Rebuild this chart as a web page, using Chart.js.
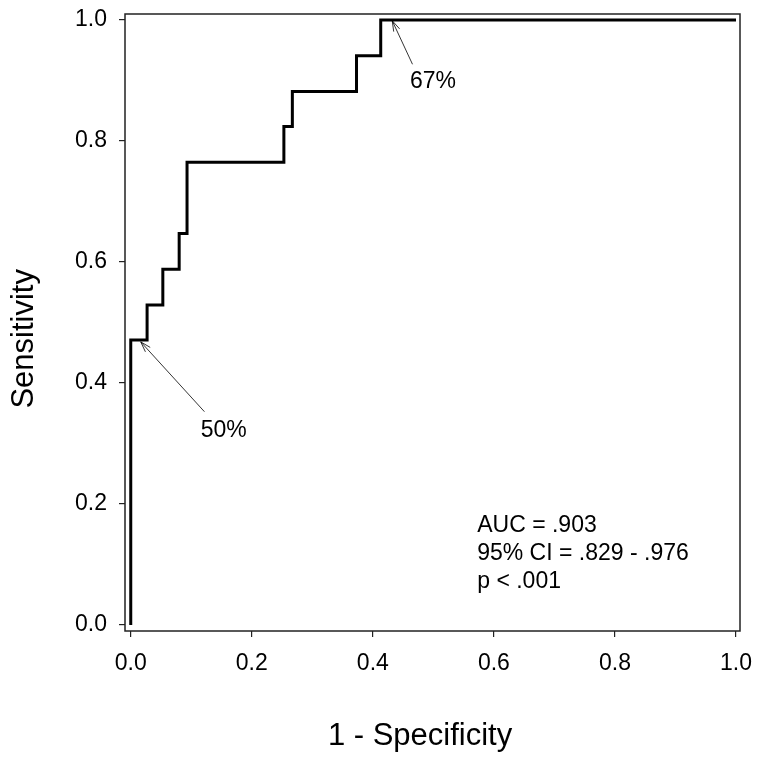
<!DOCTYPE html>
<html lang="en">
<head>
    <meta charset="UTF-8">
    <title>ROC Curve</title>
    <script src="https://cdn.jsdelivr.net/npm/chart.js"></script>
    <style>
        body { margin: 0; background: #fff; }
    </style>
</head>
<body>
    <canvas id="rocChart" width="762" height="763"></canvas>
    <script>
        // ROC points (1 - specificity, sensitivity)
        const fpr  = [0, 0, 0.027, 0.053, 0.080, 0.093, 0.253, 0.267, 0.373, 0.413, 1.0];
        const sens = [0, 0.471, 0.529, 0.588, 0.647, 0.765, 0.824, 0.882, 0.941, 1.0, 1.0];
        const tickValues = [0, 0.2, 0.4, 0.6, 0.8, 1.0];
        const statsLines = ['AUC = .903', '95% CI = .829 - .976', 'p < .001'];
        // cut-off labels: [label, arrow tip x, tip y, tail x, tail y, text x, text y]
        const cutoffs = [
            ['50%', 0.0165, 0.468, 0.1217, 0.3526, 0.1155, 0.310],
            ['67%', 0.432, 0.9988, 0.4655, 0.9268, 0.4613, 0.887]
        ];

        const FONT = '"Liberation Sans", Arial, sans-serif';

        // horizontal-then-vertical steps between the ROC points
        const curve = [{ x: fpr[0], y: sens[0] }];
        for (let i = 1; i < fpr.length; i++) {
            curve.push({ x: fpr[i], y: sens[i - 1] });
            curve.push({ x: fpr[i], y: sens[i] });
        }

        const framePlugin = {
            id: 'frame',
            afterDraw(chart) {
                const ctx = chart.ctx;
                const a = chart.chartArea;
                const xs = chart.scales.x, ys = chart.scales.y;
                ctx.save();
                ctx.strokeStyle = '#222';
                ctx.lineWidth = 1.5;
                ctx.strokeRect(a.left, a.top, a.right - a.left, a.bottom - a.top);

                ctx.fillStyle = '#000';
                ctx.font = '23px ' + FONT;
                ctx.textAlign = 'left';
                ctx.textBaseline = 'alphabetic';

                cutoffs.forEach(c => {
                    const tx = xs.getPixelForValue(c[1]), ty = ys.getPixelForValue(c[2]);
                    const sx = xs.getPixelForValue(c[3]), sy = ys.getPixelForValue(c[4]);
                    ctx.strokeStyle = '#000';
                    ctx.lineWidth = 0.8;
                    ctx.beginPath();
                    ctx.moveTo(sx, sy);
                    ctx.lineTo(tx, ty);
                    const ang = Math.atan2(sy - ty, sx - tx);
                    const len = 11, spread = 0.3;
                    ctx.moveTo(tx + len * Math.cos(ang + spread), ty + len * Math.sin(ang + spread));
                    ctx.lineTo(tx, ty);
                    ctx.lineTo(tx + len * Math.cos(ang - spread), ty + len * Math.sin(ang - spread));
                    ctx.stroke();
                    ctx.fillText(c[0], xs.getPixelForValue(c[5]), ys.getPixelForValue(c[6]));
                });

                const lx = xs.getPixelForValue(0.5724);
                const ly = ys.getPixelForValue(0.154);
                statsLines.forEach((t, i) => ctx.fillText(t, lx, ly + i * 28.3));

                // axis titles
                ctx.font = '31px ' + FONT;
                ctx.textAlign = 'center';
                ctx.fillText('1 - Specificity', xs.getPixelForValue(0.478), 745);
                ctx.translate(33, ys.getPixelForValue(0.473));
                ctx.rotate(-Math.PI / 2);
                ctx.fillText('Sensitivity', 0, 0);
                ctx.restore();
            }
        };

        const ctx = document.getElementById('rocChart').getContext('2d');
        const rocChart = new Chart(ctx, {
            type: 'line',
            data: {
                datasets: [{
                    data: curve,
                    borderColor: '#000',
                    borderWidth: 3,
                    pointRadius: 0,
                    fill: false,
                    tension: 0
                }]
            },
            options: {
                responsive: false,
                animation: false,
                devicePixelRatio: 1,
                layout: { padding: { top: 14, right: 22, left: 0, bottom: 0 } },
                plugins: {
                    legend: { display: false },
                    tooltip: { enabled: false }
                },
                scales: {
                    x: {
                        type: 'linear',
                        min: -0.0095,
                        max: 1.0066,
                        afterBuildTicks: s => { s.ticks = tickValues.map(v => ({ value: v })); },
                        afterFit: s => {
                            s.height = 132;
                            s.paddingLeft = 0;
                            s.paddingRight = 0;
                        },
                        ticks: {
                            color: '#000',
                            padding: 13,
                            maxRotation: 0,
                            font: { family: FONT, size: 23 },
                            callback: v => v.toFixed(1)
                        },
                        grid: { drawOnChartArea: false, tickLength: 6, color: '#222', lineWidth: 1.2 },
                        border: { display: false }
                    },
                    y: {
                        type: 'linear',
                        min: -0.0099,
                        max: 1.0099,
                        afterBuildTicks: s => { s.ticks = tickValues.map(v => ({ value: v })); },
                        afterFit: s => {
                            s.width = 125;
                            s.paddingTop = 0;
                            s.paddingBottom = 0;
                        },
                        ticks: {
                            color: '#000',
                            padding: 12,
                            font: { family: FONT, size: 23 },
                            callback: v => v.toFixed(1)
                        },
                        grid: { drawOnChartArea: false, tickLength: 6, color: '#222', lineWidth: 1.2 },
                        border: { display: false }
                    }
                }
            },
            plugins: [framePlugin]
        });
    </script>
</body>
</html>
